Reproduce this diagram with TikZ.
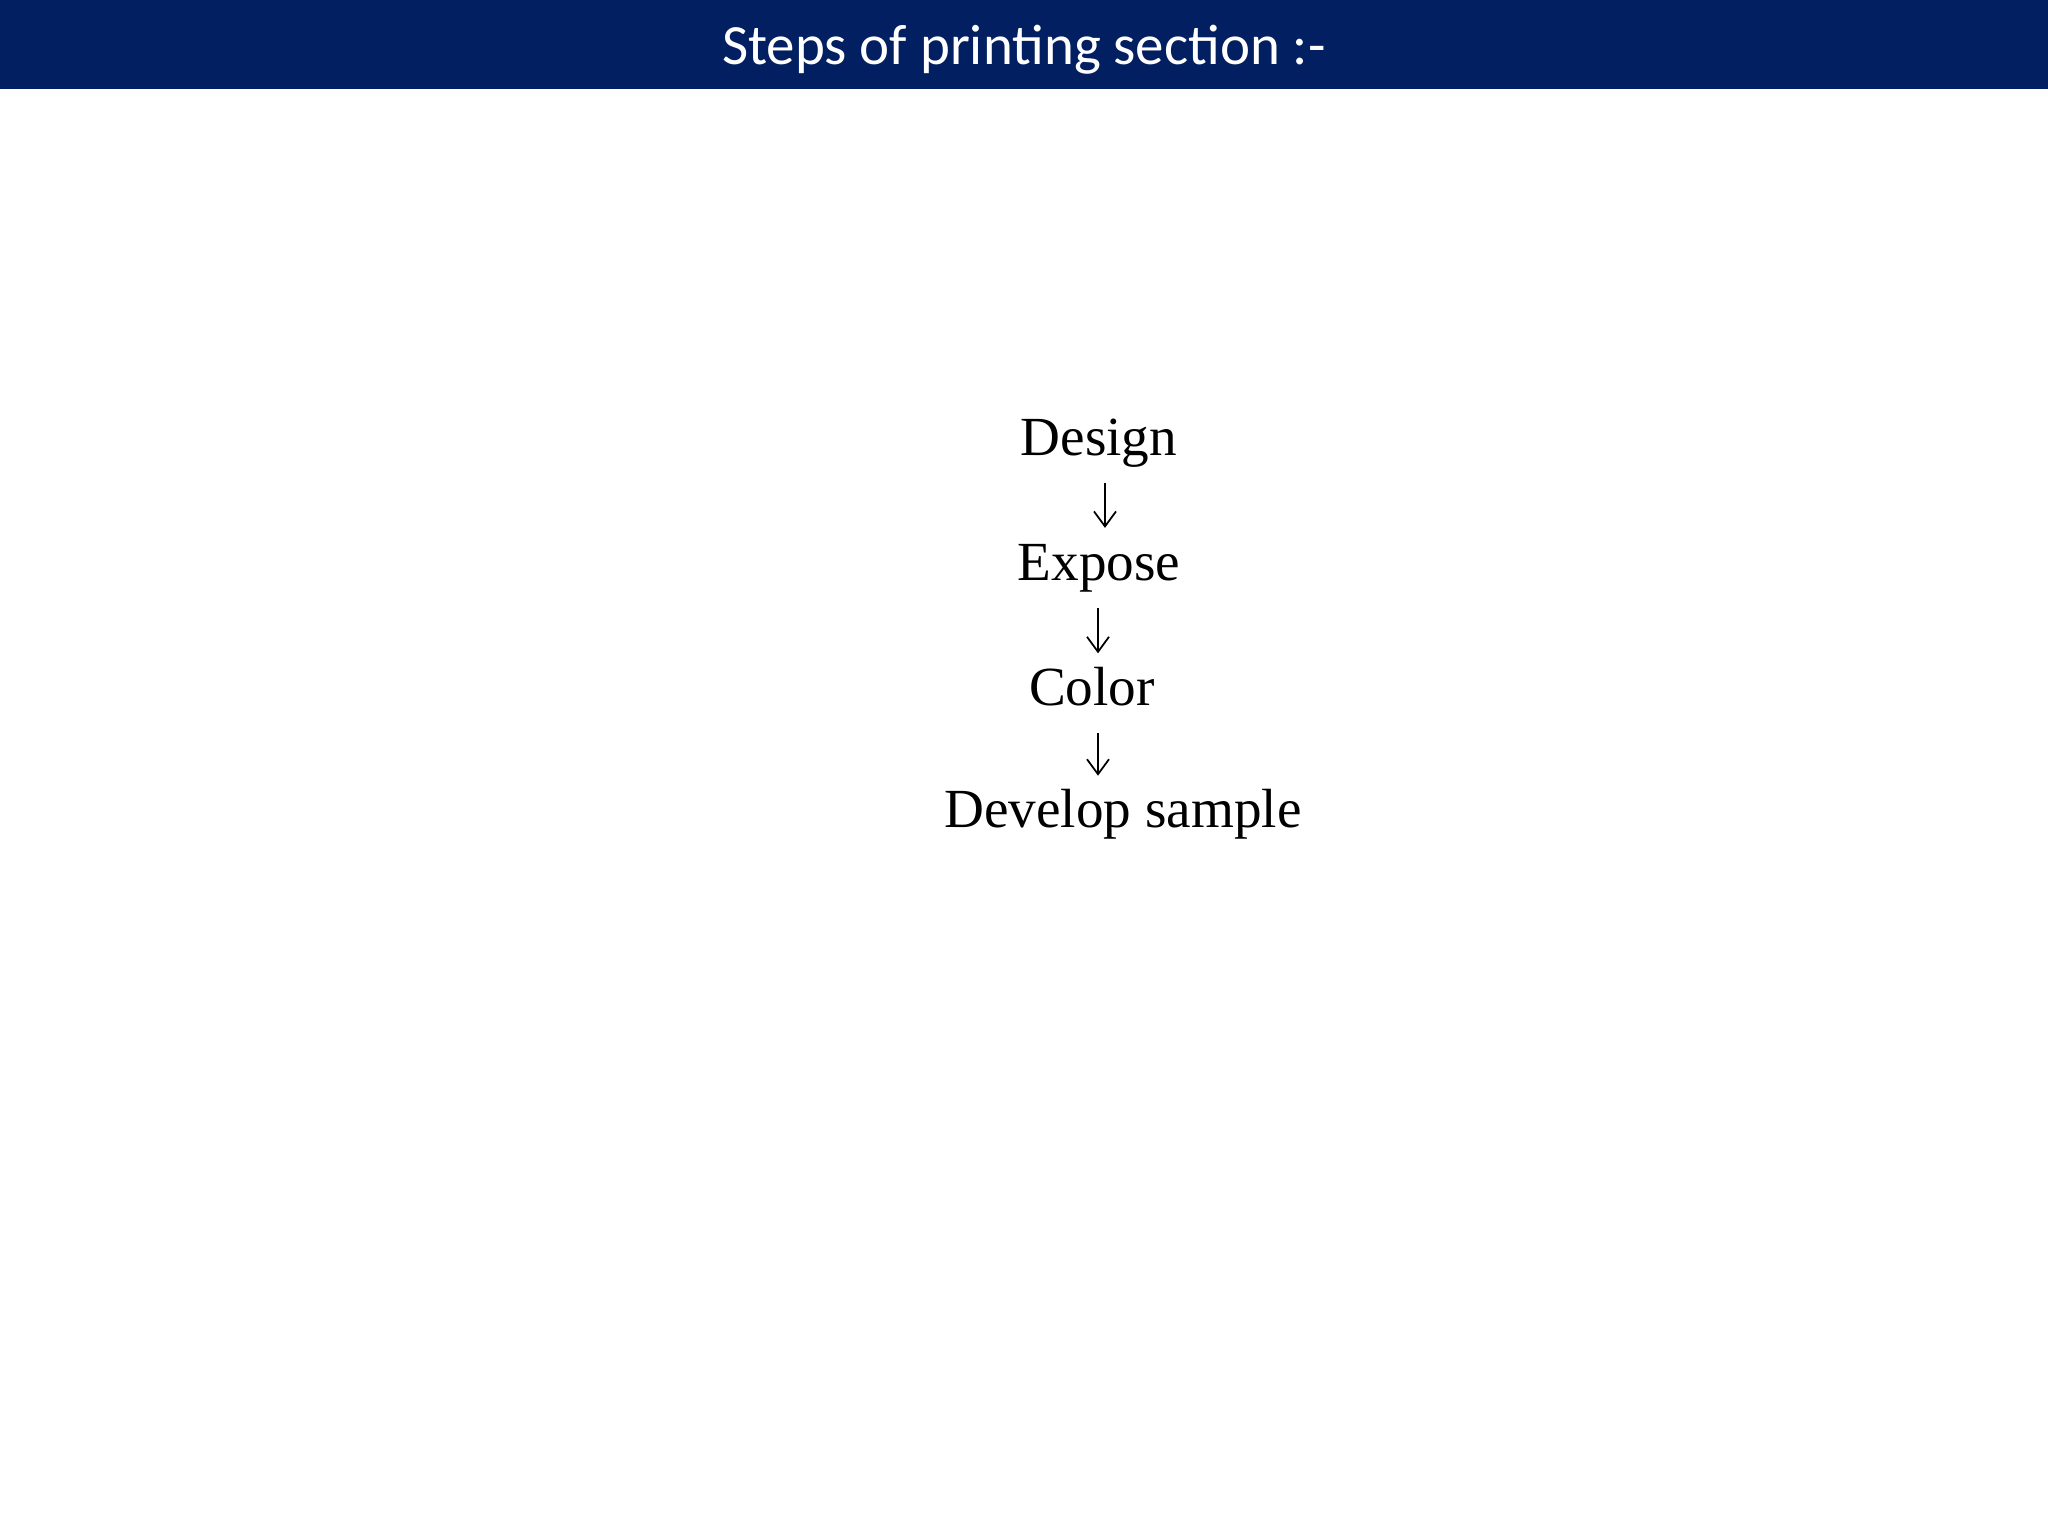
\documentclass[tikz,border=0pt]{standalone}
\usepackage{fontspec}
\setmainfont{Liberation Serif}
\newfontfamily\titlefont{Carlito}
\usetikzlibrary{positioning,arrows.meta}
\definecolor{barblue}{RGB}{2,31,98}

\begin{document}
\begin{tikzpicture}
            [font=\fontsize{15.7pt}{18pt}\selectfont,
            stepnode/.style={inner sep=0pt, text height=3.75mm, text depth=1.2mm},
            flow/.style={draw=black, line width=0.5pt, -{Straight Barb[length=1.5mm, width=2.2mm]},
                shorten <=1.5mm, shorten >=1.4mm}]
            \useasboundingbox (0,0) rectangle (20.48,-15.36);
            % title bar
            \fill [barblue] (0,0) rectangle (20.48,-0.89);
            \node [anchor=base, inner sep=0pt, text=white, font=\titlefont\fontsize{16.2pt}{19pt}\selectfont]
                (title) at (10.24,-0.65) {Steps of printing section :-};
            % steps
            \node [stepnode, anchor=north] (design) at (10.99,-4.175) {Design};
            \node [stepnode, below=7.35mm of design] (expose) {Expose};
            \node [stepnode, below=7.45mm of expose, xshift=-0.7mm] (color) {Color};
            \node [stepnode, below=7.15mm of color, xshift=3.1mm] (develop) {Develop sample};
            \draw [flow] ([xshift=0.6mm]design.south) -- ([xshift=0.6mm]design.south |- expose.north);
            \draw [flow] ([xshift=-0.1mm]expose.south) -- ([xshift=-0.1mm]expose.south |- color.north);
            \draw [flow] ([xshift=0.6mm]color.south) -- ([xshift=0.6mm]color.south |- develop.north);
\end{tikzpicture}
\end{document}
